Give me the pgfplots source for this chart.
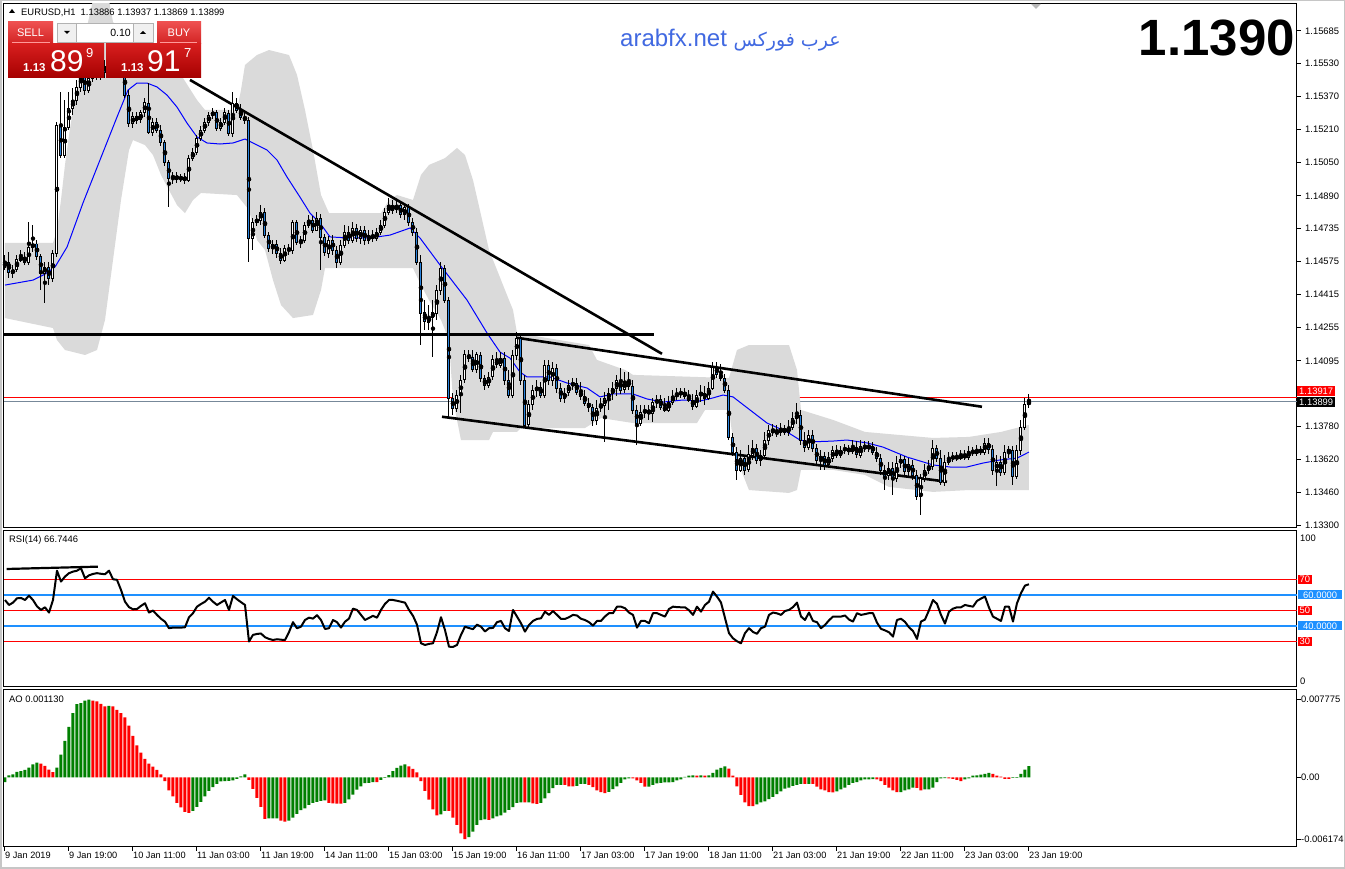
\documentclass[border=0pt]{standalone}
\usepackage{fontspec}
\setmainfont{Liberation Sans}
\newfontfamily\arabicfont[Script=Arabic]{DejaVu Sans}
\TeXXeTstate=1
\usepackage{pgfplots}
\pgfplotsset{compat=1.18}
\usepackage{pgfplotstable}
\definecolor{bandgray}{RGB}{218,218,218}
\definecolor{bearblue}{RGB}{40,130,220}
\definecolor{aogreen}{RGB}{0,128,0}
\definecolor{aored}{RGB}{255,0,0}
\definecolor{lvlblue}{RGB}{30,144,255}
\definecolor{bidgray}{RGB}{119,136,153}
\definecolor{webblue}{RGB}{65,105,225}
\newcommand{\tf}{\fontsize{9.4}{11}\selectfont}
\newcommand{\xf}{\fontsize{9.2}{11}\selectfont}

\pgfplotstableread{
i O H L C
0 1.14547 1.14605 1.14533 1.14571
1 1.14571 1.14619 1.14494 1.14519
2 1.14519 1.14557 1.14494 1.14533
3 1.14533 1.14605 1.14523 1.14581
4 1.14581 1.14629 1.14571 1.14595
5 1.14595 1.14619 1.14557 1.14571
6 1.14571 1.14764 1.14557 1.14643
7 1.14643 1.14750 1.14619 1.14658
8 1.14658 1.14677 1.14581 1.14600
9 1.14600 1.14610 1.14436 1.14519
10 1.14519 1.14571 1.14374 1.14547
11 1.14547 1.14571 1.14460 1.14494
12 1.14494 1.14629 1.14474 1.14615
13 1.14615 1.15246 1.14595 1.15232
14 1.15232 1.15390 1.15072 1.15087
15 1.15087 1.15352 1.15072 1.15222
16 1.15222 1.15390 1.15207 1.15313
17 1.15313 1.15409 1.15280 1.15352
18 1.15352 1.15448 1.15328 1.15414
19 1.15414 1.15521 1.15390 1.15473
20 1.15473 1.15497 1.15376 1.15400
21 1.15400 1.15487 1.15386 1.15458
22 1.15458 1.15535 1.15438 1.15497
23 1.15497 1.15545 1.15448 1.15468
24 1.15468 1.15554 1.15448 1.15516
25 1.15516 1.15545 1.15458 1.15487
26 1.15487 1.15569 1.15468 1.15535
27 1.15535 1.15569 1.15487 1.15506
28 1.15506 1.15554 1.15478 1.15526
29 1.15526 1.15554 1.15468 1.15497
30 1.15497 1.15521 1.15361 1.15376
31 1.15376 1.15400 1.15222 1.15237
32 1.15237 1.15294 1.15217 1.15275
33 1.15275 1.15294 1.15237 1.15256
34 1.15256 1.15304 1.15242 1.15290
35 1.15290 1.15361 1.15270 1.15338
36 1.15338 1.15434 1.15188 1.15197
37 1.15197 1.15265 1.15178 1.15246
38 1.15246 1.15265 1.15193 1.15207
39 1.15207 1.15232 1.15130 1.15149
40 1.15149 1.15159 1.15034 1.15049
41 1.15049 1.15063 1.14836 1.14976
42 1.14976 1.15005 1.14947 1.14986
43 1.14986 1.15005 1.14952 1.14971
44 1.14971 1.14996 1.14956 1.14981
45 1.14981 1.15001 1.14947 1.14966
46 1.14966 1.15087 1.14956 1.15072
47 1.15072 1.15120 1.15058 1.15101
48 1.15101 1.15183 1.15087 1.15168
49 1.15168 1.15227 1.15154 1.15207
50 1.15207 1.15265 1.15193 1.15246
51 1.15246 1.15294 1.15227 1.15280
52 1.15280 1.15313 1.15261 1.15294
53 1.15294 1.15304 1.15202 1.15217
54 1.15217 1.15265 1.15202 1.15246
55 1.15246 1.15313 1.15232 1.15290
56 1.15290 1.15304 1.15178 1.15193
57 1.15193 1.15390 1.15173 1.15338
58 1.15338 1.15361 1.15290 1.15304
59 1.15304 1.15333 1.15256 1.15270
60 1.15270 1.15294 1.15237 1.15256
61 1.15256 1.15270 1.14571 1.14686
62 1.14686 1.14783 1.14629 1.14764
63 1.14764 1.14798 1.14745 1.14774
64 1.14774 1.14846 1.14750 1.14812
65 1.14812 1.14832 1.14686 1.14701
66 1.14701 1.14715 1.14619 1.14638
67 1.14638 1.14677 1.14610 1.14658
68 1.14658 1.14677 1.14590 1.14615
69 1.14615 1.14638 1.14562 1.14581
70 1.14581 1.14653 1.14571 1.14638
71 1.14638 1.14658 1.14605 1.14629
72 1.14629 1.14774 1.14610 1.14760
73 1.14760 1.14774 1.14653 1.14667
74 1.14667 1.14696 1.14638 1.14677
75 1.14677 1.14764 1.14662 1.14750
76 1.14750 1.14798 1.14735 1.14774
77 1.14774 1.14793 1.14711 1.14725
78 1.14725 1.14812 1.14720 1.14783
79 1.14783 1.14803 1.14533 1.14691
80 1.14691 1.14706 1.14600 1.14615
81 1.14615 1.14696 1.14590 1.14677
82 1.14677 1.14701 1.14605 1.14629
83 1.14629 1.14648 1.14542 1.14571
84 1.14571 1.14677 1.14557 1.14653
85 1.14653 1.14750 1.14638 1.14715
86 1.14715 1.14745 1.14658 1.14677
87 1.14677 1.14764 1.14662 1.14735
88 1.14735 1.14755 1.14667 1.14686
89 1.14686 1.14745 1.14658 1.14725
90 1.14725 1.14745 1.14653 1.14677
91 1.14677 1.14725 1.14658 1.14701
92 1.14701 1.14725 1.14667 1.14686
93 1.14686 1.14735 1.14672 1.14715
94 1.14715 1.14774 1.14701 1.14750
95 1.14750 1.14832 1.14735 1.14812
96 1.14812 1.14880 1.14798 1.14846
97 1.14846 1.14870 1.14803 1.14822
98 1.14822 1.14870 1.14808 1.14841
99 1.14841 1.14860 1.14783 1.14798
100 1.14798 1.14851 1.14774 1.14832
101 1.14832 1.14851 1.14745 1.14764
102 1.14764 1.14783 1.14696 1.14715
103 1.14715 1.14735 1.14557 1.14571
104 1.14571 1.14605 1.14171 1.14326
105 1.14326 1.14388 1.14243 1.14282
106 1.14282 1.14364 1.14243 1.14306
107 1.14306 1.14388 1.14113 1.14326
108 1.14326 1.14460 1.14292 1.14436
109 1.14436 1.14571 1.14412 1.14542
110 1.14542 1.14557 1.14374 1.14388
111 1.14388 1.14402 1.13824 1.13915
112 1.13915 1.13940 1.13834 1.13868
113 1.13868 1.13954 1.13848 1.13930
114 1.13930 1.14027 1.13843 1.14002
115 1.14002 1.14147 1.13988 1.14123
116 1.14123 1.14147 1.14089 1.14108
117 1.14108 1.14147 1.14041 1.14051
118 1.14051 1.14137 1.14036 1.14123
119 1.14123 1.14137 1.13993 1.14012
120 1.14012 1.14027 1.13954 1.13978
121 1.13978 1.14041 1.13963 1.14017
122 1.14017 1.14123 1.14002 1.14099
123 1.14099 1.14137 1.14060 1.14075
124 1.14075 1.14137 1.14060 1.14108
125 1.14108 1.14137 1.13978 1.14002
126 1.14002 1.14051 1.13915 1.13930
127 1.13930 1.14147 1.13915 1.14123
128 1.14123 1.14233 1.14099 1.14204
129 1.14204 1.14219 1.13978 1.14002
130 1.14002 1.14027 1.13771 1.13786
131 1.13786 1.13906 1.13771 1.13882
132 1.13882 1.13978 1.13858 1.13954
133 1.13954 1.14002 1.13920 1.13968
134 1.13968 1.13993 1.13915 1.13930
135 1.13930 1.14099 1.13915 1.14075
136 1.14075 1.14099 1.13978 1.14002
137 1.14002 1.14089 1.13973 1.14060
138 1.14060 1.14080 1.13944 1.13963
139 1.13963 1.13988 1.13896 1.13915
140 1.13915 1.13963 1.13892 1.13940
141 1.13940 1.14002 1.13925 1.13978
142 1.13978 1.14012 1.13954 1.13988
143 1.13988 1.14012 1.13930 1.13944
144 1.13944 1.13993 1.13906 1.13925
145 1.13925 1.13954 1.13877 1.13892
146 1.13892 1.13915 1.13848 1.13872
147 1.13872 1.13887 1.13781 1.13810
148 1.13810 1.13906 1.13786 1.13868
149 1.13868 1.13915 1.13848 1.13882
150 1.13882 1.13944 1.13703 1.13915
151 1.13915 1.13963 1.13858 1.13940
152 1.13940 1.13993 1.13906 1.13963
153 1.13963 1.14027 1.13925 1.14002
154 1.14002 1.14060 1.13935 1.13954
155 1.13954 1.14041 1.13940 1.13997
156 1.13997 1.14041 1.13954 1.13973
157 1.13973 1.14002 1.13839 1.13858
158 1.13858 1.13882 1.13689 1.13796
159 1.13796 1.13882 1.13781 1.13848
160 1.13848 1.13882 1.13819 1.13858
161 1.13858 1.13882 1.13810 1.13843
162 1.13843 1.13915 1.13800 1.13896
163 1.13896 1.13930 1.13868 1.13906
164 1.13906 1.13930 1.13858 1.13872
165 1.13872 1.13915 1.13848 1.13858
166 1.13858 1.13925 1.13848 1.13896
167 1.13896 1.13954 1.13882 1.13925
168 1.13925 1.13963 1.13906 1.13935
169 1.13935 1.13963 1.13915 1.13944
170 1.13944 1.13963 1.13911 1.13925
171 1.13925 1.13954 1.13896 1.13906
172 1.13906 1.13935 1.13858 1.13877
173 1.13877 1.13954 1.13868 1.13930
174 1.13930 1.13978 1.13896 1.13940
175 1.13940 1.13973 1.13882 1.13915
176 1.13915 1.13993 1.13906 1.13963
177 1.13963 1.14089 1.13954 1.14065
178 1.14065 1.14089 1.14012 1.14031
179 1.14031 1.14080 1.13997 1.14012
180 1.14012 1.14031 1.13940 1.13954
181 1.13954 1.13978 1.13713 1.13727
182 1.13727 1.13747 1.13636 1.13655
183 1.13655 1.13679 1.13520 1.13569
184 1.13569 1.13665 1.13559 1.13626
185 1.13626 1.13641 1.13545 1.13569
186 1.13569 1.13689 1.13559 1.13641
187 1.13641 1.13713 1.13617 1.13674
188 1.13674 1.13694 1.13598 1.13617
189 1.13617 1.13665 1.13588 1.13641
190 1.13641 1.13751 1.13626 1.13713
191 1.13713 1.13786 1.13689 1.13761
192 1.13761 1.13791 1.13732 1.13751
193 1.13751 1.13786 1.13727 1.13747
194 1.13747 1.13796 1.13732 1.13771
195 1.13771 1.13786 1.13737 1.13751
196 1.13751 1.13810 1.13732 1.13776
197 1.13776 1.13848 1.13761 1.13819
198 1.13819 1.13892 1.13791 1.13834
199 1.13834 1.13858 1.13689 1.13713
200 1.13713 1.13751 1.13655 1.13679
201 1.13679 1.13761 1.13665 1.13737
202 1.13737 1.13761 1.13655 1.13674
203 1.13674 1.13694 1.13593 1.13617
204 1.13617 1.13665 1.13569 1.13636
205 1.13636 1.13655 1.13569 1.13593
206 1.13593 1.13655 1.13578 1.13626
207 1.13626 1.13684 1.13607 1.13665
208 1.13665 1.13689 1.13626 1.13641
209 1.13641 1.13684 1.13626 1.13665
210 1.13665 1.13694 1.13646 1.13674
211 1.13674 1.13689 1.13641 1.13660
212 1.13660 1.13713 1.13646 1.13679
213 1.13679 1.13708 1.13626 1.13641
214 1.13641 1.13713 1.13626 1.13684
215 1.13684 1.13708 1.13655 1.13674
216 1.13674 1.13708 1.13655 1.13684
217 1.13684 1.13703 1.13641 1.13655
218 1.13655 1.13679 1.13607 1.13626
219 1.13626 1.13646 1.13545 1.13569
220 1.13569 1.13593 1.13472 1.13540
221 1.13540 1.13607 1.13520 1.13578
222 1.13578 1.13607 1.13448 1.13530
223 1.13530 1.13636 1.13510 1.13603
224 1.13603 1.13641 1.13578 1.13617
225 1.13617 1.13636 1.13540 1.13559
226 1.13559 1.13626 1.13540 1.13593
227 1.13593 1.13617 1.13520 1.13545
228 1.13545 1.13569 1.13424 1.13443
229 1.13443 1.13549 1.13352 1.13530
230 1.13530 1.13598 1.13510 1.13569
231 1.13569 1.13617 1.13549 1.13588
232 1.13588 1.13713 1.13569 1.13674
233 1.13674 1.13689 1.13607 1.13626
234 1.13626 1.13665 1.13496 1.13510
235 1.13510 1.13641 1.13491 1.13607
236 1.13607 1.13655 1.13593 1.13626
237 1.13626 1.13655 1.13607 1.13631
238 1.13631 1.13655 1.13612 1.13626
239 1.13626 1.13665 1.13617 1.13641
240 1.13641 1.13665 1.13617 1.13631
241 1.13631 1.13684 1.13617 1.13660
242 1.13660 1.13679 1.13636 1.13651
243 1.13651 1.13689 1.13636 1.13665
244 1.13665 1.13684 1.13641 1.13655
245 1.13655 1.13723 1.13641 1.13699
246 1.13699 1.13723 1.13646 1.13670
247 1.13670 1.13689 1.13545 1.13569
248 1.13569 1.13641 1.13491 1.13607
249 1.13607 1.13636 1.13540 1.13559
250 1.13559 1.13689 1.13545 1.13655
251 1.13655 1.13684 1.13626 1.13665
252 1.13665 1.13684 1.13496 1.13540
253 1.13540 1.13689 1.13525 1.13665
254 1.13665 1.13810 1.13641 1.13776
255 1.13776 1.13915 1.13761 1.13886
256 1.13886 1.13937 1.13869 1.13899
}\candles

% band outline: upper edge left->right, then lower edge right->left
\pgfplotstableread{
i p
0 1.14663
12 1.14663
13 1.14725
14 1.14870
15 1.15039
16 1.15183
17 1.15304
18 1.15400
19 1.15545
20 1.15665
21 1.15747
22 1.15834
26 1.15834
27 1.15728
29 1.15689
34 1.15665
39 1.15593
44 1.15473
48 1.15352
50 1.15304
58 1.15304
59 1.15400
60 1.15521
63 1.15569
66 1.15593
71 1.15569
73 1.15473
75 1.15304
77 1.15111
79 1.14894
81 1.14807
94 1.14807
96 1.14870
98 1.14894
102 1.14870
104 1.14991
106 1.15039
110 1.15072
113 1.15121
115 1.15087
117 1.14966
119 1.14798
121 1.14629
123 1.14533
125 1.14436
127 1.14340
128 1.14229
146 1.14171
148 1.14099
155 1.14051
157 1.14027
181 1.14012
183 1.14147
186 1.14171
196 1.14171
198 1.14051
199 1.13858
207 1.13810
215 1.13752
232 1.13723
241 1.13728
249 1.13752
256 1.13786
256 1.13472
241 1.13472
232 1.13463
221 1.13487
215 1.13545
207 1.13569
199 1.13569
198 1.13472
196 1.13458
186 1.13472
184 1.13569
182 1.13713
181 1.13858
175 1.13858
173 1.13795
157 1.13795
149 1.13819
145 1.13771
129 1.13771
128 1.13752
122 1.13752
121 1.13713
114 1.13713
113 1.13810
112 1.13906
111 1.14195
109 1.14292
106 1.14388
104 1.14460
102 1.14542
80 1.14542
79 1.14436
77 1.14316
72 1.14301
69 1.14364
67 1.14484
65 1.14629
63 1.14677
61 1.14822
58 1.14894
49 1.14904
47 1.14870
45 1.14807
43 1.14846
41 1.14918
39 1.14991
37 1.15087
35 1.15135
32 1.15159
31 1.15111
29 1.14870
27 1.14581
25 1.14292
23 1.14147
20 1.14123
15 1.14147
13 1.14195
12 1.14253
0 1.14301
}\bandpoly

\pgfplotstableread{
i m
0 1.14460
7 1.14484
10 1.14513
12.5 1.14547
15.5 1.14643
19.5 1.14856
23.75 1.15063
28 1.15270
30.75 1.15400
33 1.15434
35.5 1.15434
38 1.15415
40.5 1.15376
43 1.15318
45.5 1.15241
48 1.15174
50.5 1.15145
53.75 1.15140
57 1.15145
60 1.15164
62 1.15145
65.5 1.15111
68 1.15063
70.5 1.14981
73.75 1.14884
76.25 1.14807
78.75 1.14759
81.25 1.14692
86.25 1.14687
91.25 1.14687
96.25 1.14701
101.25 1.14735
103.75 1.14687
108.75 1.14557
115.5 1.14388
120.5 1.14229
123.75 1.14137
126.25 1.14108
128.75 1.14041
130.5 1.14017
136.25 1.14017
140.5 1.13988
145.5 1.13964
148.75 1.13921
152 1.13935
157 1.13935
160.5 1.13911
164.5 1.13896
169.5 1.13906
173.75 1.13901
177 1.13916
179.5 1.13930
182 1.13921
186.25 1.13858
190.5 1.13795
195.5 1.13752
198.75 1.13713
201.25 1.13704
207 1.13708
210.5 1.13713
215.5 1.13699
219.5 1.13679
225.5 1.13631
232 1.13593
236.25 1.13583
240.5 1.13583
244.5 1.13602
248.75 1.13617
253 1.13626
256 1.13655
}\maline

\pgfplotstableread{
i r
0 56.6
1 53.4
2 54.9
3 57.7
4 57.9
5 56.6
6 59.4
7 56.6
8 52.5
9 50.2
10 51.9
11 48.5
12 56.6
13 75.5
14 68.5
15 71.7
16 73.9
17 74.9
18 75.5
19 77.1
20 70.6
21 72.5
22 73.4
23 73.9
24 73.5
25 73.2
26 75.5
27 70.0
28 69.6
29 63.1
30 55.5
31 52.0
32 50.6
33 50.8
34 52.8
35 54.5
36 48.5
37 49.8
38 47.0
39 44.5
40 42.6
41 38.4
42 38.8
43 38.8
44 38.8
45 39.0
46 45.5
47 48.1
48 52.3
49 54.0
50 55.5
51 58.1
52 55.5
53 53.4
54 55.0
55 56.6
56 50.2
57 59.2
58 57.1
59 55.2
60 53.4
61 29.8
62 34.1
63 34.7
64 35.0
65 32.6
66 31.5
67 30.8
68 31.3
69 31.0
70 30.8
71 35.9
72 42.3
73 38.4
74 39.4
75 43.7
76 45.2
77 44.6
78 46.8
79 43.7
80 37.9
81 38.4
82 43.7
83 42.3
84 38.8
85 42.6
86 44.6
87 51.0
88 50.2
89 47.0
90 43.7
91 45.0
92 46.4
93 45.2
94 50.2
95 54.1
96 56.6
97 56.6
98 56.1
99 55.5
100 54.9
101 50.2
102 46.4
103 40.7
104 28.7
105 27.6
106 28.3
107 28.7
108 35.9
109 45.5
110 37.2
111 26.5
112 26.3
113 27.6
114 34.1
115 39.4
116 38.5
117 37.8
118 40.7
119 39.4
120 36.3
121 38.4
122 38.6
123 42.3
124 43.1
125 38.4
126 36.6
127 50.2
128 45.9
129 41.6
130 36.2
131 40.5
132 43.1
133 44.4
134 44.8
135 49.1
136 47.0
137 49.5
138 47.0
139 44.4
140 44.4
141 45.5
142 47.0
143 46.6
144 44.5
145 43.7
146 42.3
147 40.1
148 43.1
149 43.1
150 46.0
151 48.1
152 48.1
153 52.3
154 52.3
155 51.3
156 48.5
157 47.0
158 38.8
159 43.1
160 43.1
161 41.6
162 48.1
163 48.1
164 47.0
165 45.9
166 50.8
167 52.3
168 52.0
169 51.9
170 51.9
171 50.0
172 47.0
173 52.3
174 49.1
175 53.4
176 55.5
177 62.0
178 58.8
179 55.0
180 45.0
181 35.2
182 31.9
183 30.0
184 28.7
185 35.2
186 38.4
187 36.0
188 34.8
189 38.4
190 39.4
191 47.0
192 48.5
193 48.0
194 47.0
195 49.5
196 50.2
197 52.0
198 54.9
199 46.0
200 43.7
201 48.5
202 43.1
203 42.3
204 38.4
205 40.5
206 43.5
207 45.9
208 45.9
209 45.9
210 46.6
211 44.0
212 42.7
213 48.1
214 47.0
215 47.5
216 48.1
217 48.1
218 42.0
219 38.0
220 37.0
221 35.8
222 33.0
223 43.7
224 44.5
225 42.5
226 39.0
227 36.6
228 31.5
229 42.7
230 44.0
231 50.0
232 56.6
233 54.1
234 47.0
235 41.4
236 49.1
237 51.0
238 51.9
239 51.9
240 53.4
241 52.8
242 52.3
243 56.0
244 57.5
245 58.8
246 51.7
247 45.9
248 44.5
249 43.1
250 52.3
251 52.3
252 42.7
253 54.5
254 61.0
255 65.9
256 66.7446
}\rsidata

\pgfplotstableread{
i ao g
0 -0.00047 1
1 0.0002 1
2 0.0003 1
3 0.00056 1
4 0.00063 1
5 0.00076 1
6 0.00099 1
7 0.0013 1
8 0.00149 1
9 0.00139 0
10 0.00116 0
11 0.00079 0
12 0.00053 0
13 0.00099 1
14 0.00228 1
15 0.00366 1
16 0.00505 1
17 0.00644 1
18 0.00733 1
19 0.00743 1
20 0.00769 1
21 0.007775 1
22 0.00769 0
23 0.00762 0
24 0.00736 0
25 0.0071 0
26 0.00716 1
27 0.0071 0
28 0.00676 0
29 0.00644 0
30 0.006 0
31 0.00518 0
32 0.00416 0
33 0.0032 0
34 0.00248 0
35 0.00185 0
36 0.00139 0
37 0.00109 0
38 0.00076 0
39 0.0003 0
40 -0.00036 0
41 -0.00129 0
42 -0.00188 0
43 -0.00254 0
44 -0.003 0
45 -0.00343 0
46 -0.00353 0
47 -0.00333 1
48 -0.00294 1
49 -0.00244 1
50 -0.00188 1
51 -0.00135 1
52 -0.00096 1
53 -0.00063 1
54 -0.0004 1
55 -0.00036 1
56 -0.00035 1
57 -0.0003 1
58 -0.00013 1
59 0.0001 1
60 0.0003 1
61 -0.00023 0
62 -0.00115 0
63 -0.00205 0
64 -0.00294 0
65 -0.00415 0
66 -0.0041 1
67 -0.00409 1
68 -0.00408 1
69 -0.00432 0
70 -0.00442 0
71 -0.00432 1
72 -0.00402 1
73 -0.00363 1
74 -0.00327 1
75 -0.0031 1
76 -0.00274 1
77 -0.00254 1
78 -0.00244 1
79 -0.00234 1
80 -0.00228 1
81 -0.00254 0
82 -0.0026 0
83 -0.00261 0
84 -0.00262 0
85 -0.00254 1
86 -0.00218 1
87 -0.00171 1
88 -0.00122 1
89 -0.00089 1
90 -0.00056 1
91 -0.00055 1
92 -0.00046 1
93 -0.00047 0
94 -0.00023 1
95 -0.00005 1
96 0.00023 1
97 0.00063 1
98 0.00096 1
99 0.00119 1
100 0.00132 1
101 0.00112 0
102 0.00086 0
103 0.0005 0
104 -0.00036 0
105 -0.00135 0
106 -0.00221 0
107 -0.0032 0
108 -0.00379 0
109 -0.00369 1
110 -0.00333 1
111 -0.00335 0
112 -0.00402 0
113 -0.00475 0
114 -0.00558 0
115 -0.006174 0
116 -0.00597 1
117 -0.00541 1
118 -0.00475 1
119 -0.00426 1
120 -0.0042 1
121 -0.00425 0
122 -0.0041 1
123 -0.0039 1
124 -0.0038 1
125 -0.00351 1
126 -0.00324 1
127 -0.00296 1
128 -0.00254 1
129 -0.00249 1
130 -0.0025 0
131 -0.00248 1
132 -0.00258 0
133 -0.00263 0
134 -0.00254 1
135 -0.00208 1
136 -0.00157 1
137 -0.00106 1
138 -0.00074 1
139 -0.00073 1
140 -0.00075 0
141 -0.00088 0
142 -0.00089 0
143 -0.00084 1
144 -0.00064 1
145 -0.00063 1
146 -0.00074 0
147 -0.00097 0
148 -0.0013 0
149 -0.00147 0
150 -0.00157 0
151 -0.00143 1
152 -0.00116 1
153 -0.00088 1
154 -0.00055 1
155 -0.00019 1
156 -0.00009 1
157 -0.0001 0
158 -0.00028 0
159 -0.00055 0
160 -0.00092 0
161 -0.00091 1
162 -0.00074 1
163 -0.0006 1
164 -0.00055 1
165 -0.0005 1
166 -0.00049 1
167 -0.00047 1
168 -0.00028 1
169 -0.00019 1
170 0.00007 1
171 0.00019 1
172 0.0002 1
173 0.00019 0
174 0.00021 1
175 0.00019 0
176 0.0002 1
177 0.00047 1
178 0.00078 1
179 0.00097 1
180 0.00111 1
181 0.00088 0
182 0.00019 0
183 -0.00088 0
184 -0.00175 0
185 -0.00249 0
186 -0.00286 0
187 -0.00287 0
188 -0.00268 1
189 -0.00249 1
190 -0.0024 1
191 -0.00217 1
192 -0.00194 1
193 -0.00166 1
194 -0.00139 1
195 -0.00111 1
196 -0.00102 1
197 -0.00083 1
198 -0.00074 1
199 -0.00064 1
200 -0.00065 0
201 -0.00063 1
202 -0.00065 0
203 -0.00092 0
204 -0.0012 0
205 -0.0013 0
206 -0.00147 0
207 -0.00149 0
208 -0.00139 1
209 -0.0012 1
210 -0.00102 1
211 -0.00074 1
212 -0.00055 1
213 -0.00047 1
214 -0.00028 1
215 -0.00019 1
216 -0.00018 1
217 -0.00017 1
218 -0.00019 0
219 -0.00037 0
220 -0.00074 0
221 -0.00102 0
222 -0.0013 0
223 -0.00147 0
224 -0.00146 1
225 -0.0013 1
226 -0.0012 1
227 -0.00102 1
228 -0.00103 0
229 -0.0013 0
230 -0.0012 1
231 -0.00119 1
232 -0.00102 1
233 -0.00047 1
234 -0.00009 1
235 -0.00007 1
236 -0.00008 0
237 -0.00014 0
238 -0.00023 0
239 -0.00037 0
240 -0.00019 1
241 -0.00009 1
242 0.00019 1
243 0.0002 1
244 0.00028 1
245 0.00037 1
246 0.00047 1
247 0.00037 0
248 0.00019 0
249 0.00009 0
250 -0.00014 0
251 -0.00015 0
252 -0.00005 1
253 -0.00004 1
254 0.00037 1
255 0.00078 1
256 0.00113 1
}\aodata

\pgfplotsset{
  mtaxis/.style={scale only axis, width=1293pt, xmin=-0.25, xmax=323,
    anchor=south west, axis line style={line width=1pt, black},
    tick style={line width=1pt, black}, tick align=outside,
    major tick length=4pt, scaled y ticks=false, scaled x ticks=false},
}

\begin{document}
\begin{tikzpicture}[x=1pt,y=1pt]
\useasboundingbox (0,0) rectangle (1345,869);
\fill[white] (0,0) rectangle (1345,869);
\draw[gray!45, line width=3pt] (0,0) rectangle (1345,869);

% ---------------- price panel ----------------
\begin{axis}[mtaxis, at={(4pt,341pt)}, height=524pt,
  ymin=1.13289, ymax=1.15815, xtick=\empty,
  ytick pos=right, yticklabel pos=right,
  ytick={1.13300,1.13460,1.13620,1.13780,1.13940,1.14095,1.14255,1.14415,1.14575,1.14735,1.14890,1.15050,1.15210,1.15370,1.15530,1.15685},
  yticklabels={1.13300,1.13460,1.13620,1.13780,{},1.14095,1.14255,1.14415,1.14575,1.14735,1.14890,1.15050,1.15210,1.15370,1.15530,1.15685},
  yticklabel style={font=\tf, anchor=west, inner sep=0pt, xshift=4pt}]
  \addplot[red, line width=1pt] coordinates {(-0.25,1.13917) (323,1.13917)};
  \addplot[bidgray, line width=1pt] coordinates {(-0.25,1.13899) (323,1.13899)};
  \addplot[fill=bandgray, draw=none] table[x=i, y=p] {\bandpoly};
  \addplot[blue, line width=1pt] table[x=i, y=m] {\maline};
  \addplot[black, line width=2.6pt] coordinates {(-0.25,1.142203) (162.25,1.142203)};
  \addplot[black, line width=2.6pt] coordinates {(46.25,1.154489) (164.25,1.141287)};
  \addplot[black, line width=2.6pt] coordinates {(128,1.142058) (244.25,1.138734)};
  \addplot[black, line width=2.6pt] coordinates {(109.25,1.138252) (235.5,1.13512)};
  % wicks
  \addplot[only marks, mark=none,
    error bars/.cd, y dir=both, y explicit, error mark=none,
    error bar style={draw=black, solid, line width=1pt}]
    table[x=i, y expr={(\thisrow{H}+\thisrow{L})/2}, y error expr={(\thisrow{H}-\thisrow{L})/2}] {\candles};
  % body outlines
  \addplot[only marks, mark=none,
    error bars/.cd, y dir=both, y explicit, error mark=none,
    error bar style={draw=black, solid, line width=3pt}]
    table[x=i, y expr={(\thisrow{O}+\thisrow{C})/2}, y error expr={abs(\thisrow{C}-\thisrow{O})/2+0.000024}] {\candles};
  % bull fill
  \addplot[only marks, mark=none, restrict expr to domain={\thisrow{C}-\thisrow{O}}{0.0001:1},
    error bars/.cd, y dir=both, y explicit, error mark=none,
    error bar style={draw=white, solid, line width=1pt}]
    table[x=i, y expr={(\thisrow{O}+\thisrow{C})/2}, y error expr={(\thisrow{C}-\thisrow{O})/2-0.000024}] {\candles};
  % bear fill
  \addplot[only marks, mark=none, restrict expr to domain={\thisrow{O}-\thisrow{C}}{0.0001:1},
    error bars/.cd, y dir=both, y explicit, error mark=none,
    error bar style={draw=bearblue, solid, line width=1pt}]
    table[x=i, y expr={(\thisrow{O}+\thisrow{C})/2}, y error expr={(\thisrow{O}-\thisrow{C})/2-0.000024}] {\candles};
\end{axis}

% ---------------- RSI panel ----------------
\begin{axis}[mtaxis, at={(4pt,182pt)}, height=156pt,
  ymin=0.5, ymax=101.1, xtick=\empty, ytick=\empty]
  \addplot[red, line width=1pt] coordinates {(-0.25,70) (323,70)};
  \addplot[red, line width=1pt] coordinates {(-0.25,50) (323,50)};
  \addplot[red, line width=1pt] coordinates {(-0.25,30) (323,30)};
  \addplot[lvlblue, line width=2pt] coordinates {(-0.25,60) (323,60)};
  \addplot[lvlblue, line width=2pt] coordinates {(-0.25,40) (323,40)};
  \addplot[black, line width=2pt, line join=round] table[x=i, y=r] {\rsidata};
  \addplot[black, line width=2.2pt] coordinates {(0.4,76.6) (23.2,78.1)};
\end{axis}

% ---------------- AO panel ----------------
\begin{axis}[mtaxis, at={(4pt,22pt)}, height=157pt,
  ymin=-0.00695, ymax=0.00875,
  xtick={0,16,32,48,64,80,96,112,128,144,160,176,192,208,224,240,256},
  xticklabels={9 Jan 2019,9 Jan 19:00,10 Jan 11:00,11 Jan 03:00,11 Jan 19:00,14 Jan 11:00,15 Jan 03:00,15 Jan 19:00,16 Jan 11:00,17 Jan 03:00,17 Jan 19:00,18 Jan 11:00,21 Jan 03:00,21 Jan 19:00,22 Jan 11:00,23 Jan 03:00,23 Jan 19:00},
  xtick pos=bottom, xticklabel style={font=\xf, anchor=north west, inner sep=0pt, yshift=-1pt},
  ytick={-0.006174,0,0.007775}, yticklabels={-0.006174,0.00,0.007775},
  ytick pos=right, yticklabel pos=right,
  yticklabel style={font=\tf, anchor=west, inner sep=0pt, xshift=0pt}]
  \addplot[ybar, bar width=3pt, fill=aogreen, draw=none,
    restrict expr to domain={\thisrow{g}}{0.5:1.5}] table[x=i, y=ao] {\aodata};
  \addplot[ybar, bar width=3pt, fill=aored, draw=none,
    restrict expr to domain={\thisrow{g}}{-0.5:0.5}] table[x=i, y=ao] {\aodata};
\end{axis}

% ---------------- overlays ----------------
\fill[black] (9,856) -- (15,856) -- (12,860) -- cycle;
\node[anchor=base west, font=\tf, inner sep=0pt] at (21,853) {EURUSD,H1\ \ 1.13886 1.13937 1.13869 1.13899};
\shade[top color={rgb,255:red,238;green,80;blue,80}, bottom color={rgb,255:red,210;green,35;blue,35}] (8,847) rectangle (53,825);
\shade[top color={rgb,255:red,238;green,80;blue,80}, bottom color={rgb,255:red,210;green,35;blue,35}] (157,847) rectangle (201,825);
\shade[top color={rgb,255:red,215;green,30;blue,30}, bottom color={rgb,255:red,165;green,0;blue,0}] (8,825) rectangle (104,791);
\shade[top color={rgb,255:red,215;green,30;blue,30}, bottom color={rgb,255:red,165;green,0;blue,0}] (106,825) rectangle (201,791);
\draw[white!60!red, line width=1pt] (12,826) -- (50,826);
\draw[white!60!red, line width=1pt] (160,826) -- (197,826);
\filldraw[fill=gray!12, draw=gray!60] (57,846) rectangle (76,827);
\filldraw[fill=white, draw=gray!60] (76,846) rectangle (133,827);
\filldraw[fill=gray!12, draw=gray!60] (133,846) rectangle (153,827);
\fill[black] (64,838) -- (70,838) -- (67,835) -- cycle;
\fill[black] (140,835) -- (146,835) -- (143,838) -- cycle;
\node[anchor=base east, font=\fontsize{10.5}{12}\selectfont, inner sep=0pt] at (131,832) {0.10};
\node[font=\fontsize{11}{12}\selectfont, text=white, inner sep=0pt] at (30.5,836) {SELL};
\node[font=\fontsize{11}{12}\selectfont, text=white, inner sep=0pt] at (179,836) {BUY};
\node[anchor=base west, font=\bfseries\fontsize{11.5}{12}\selectfont, text=white, inner sep=0pt] at (23,797) {1.13};
\node[anchor=base west, font=\fontsize{30}{30}\selectfont, text=white, inner sep=0pt] at (50,797) {89};
\node[anchor=base west, font=\fontsize{13}{13}\selectfont, text=white, inner sep=0pt] at (86,811) {9};
\node[anchor=base west, font=\bfseries\fontsize{11.5}{12}\selectfont, text=white, inner sep=0pt] at (121,797) {1.13};
\node[anchor=base west, font=\fontsize{30}{30}\selectfont, text=white, inner sep=0pt] at (147,797) {91};
\node[anchor=base west, font=\fontsize{13}{13}\selectfont, text=white, inner sep=0pt] at (184,811) {7};
\node[anchor=base west, font=\fontsize{24}{26}\selectfont, text=webblue, inner sep=0pt] at (620,822) {arabfx.net {\arabicfont\fontsize{19}{22}\selectfont\beginR عرب فوركس\endR}};
\node[anchor=base east, font=\bfseries\fontsize{51}{51}\selectfont, inner sep=0pt] at (1295,813) {1.1390};
\fill[gray!55] (1031,865) -- (1041,865) -- (1036,860) -- cycle;
\node[anchor=west, fill=red, text=white, font=\tf, inner xsep=2pt, inner ysep=0pt, minimum height=10pt] at (1297,478) {1.13917};
\node[anchor=west, fill=black, text=white, font=\tf, inner xsep=2pt, inner ysep=0pt, minimum height=10pt] at (1297,467) {1.13899};
\node[anchor=west, font=\tf, inner sep=0pt] at (9,329) {RSI(14) 66.7446};
\node[anchor=west, font=\tf, inner sep=0pt] at (1300,331) {100};
\node[anchor=west, font=\tf, inner sep=0pt] at (1300,188) {0};
\node[anchor=west, fill=red, text=white, font=\tf, inner xsep=1.5pt, inner ysep=1pt] at (1298,289.7) {70};
\node[anchor=west, fill=lvlblue, text=white, font=\tf, inner xsep=5pt, inner ysep=1pt] at (1298,274.2) {60.0000};
\node[anchor=west, fill=red, text=white, font=\tf, inner xsep=1.5pt, inner ysep=1pt] at (1298,258.7) {50};
\node[anchor=west, fill=lvlblue, text=white, font=\tf, inner xsep=5pt, inner ysep=1pt] at (1298,243.2) {40.0000};
\node[anchor=west, fill=red, text=white, font=\tf, inner xsep=1.5pt, inner ysep=1pt] at (1298,227.7) {30};
\node[anchor=west, font=\tf, inner sep=0pt] at (9,170) {AO 0.001130};
\end{tikzpicture}
\end{document}
